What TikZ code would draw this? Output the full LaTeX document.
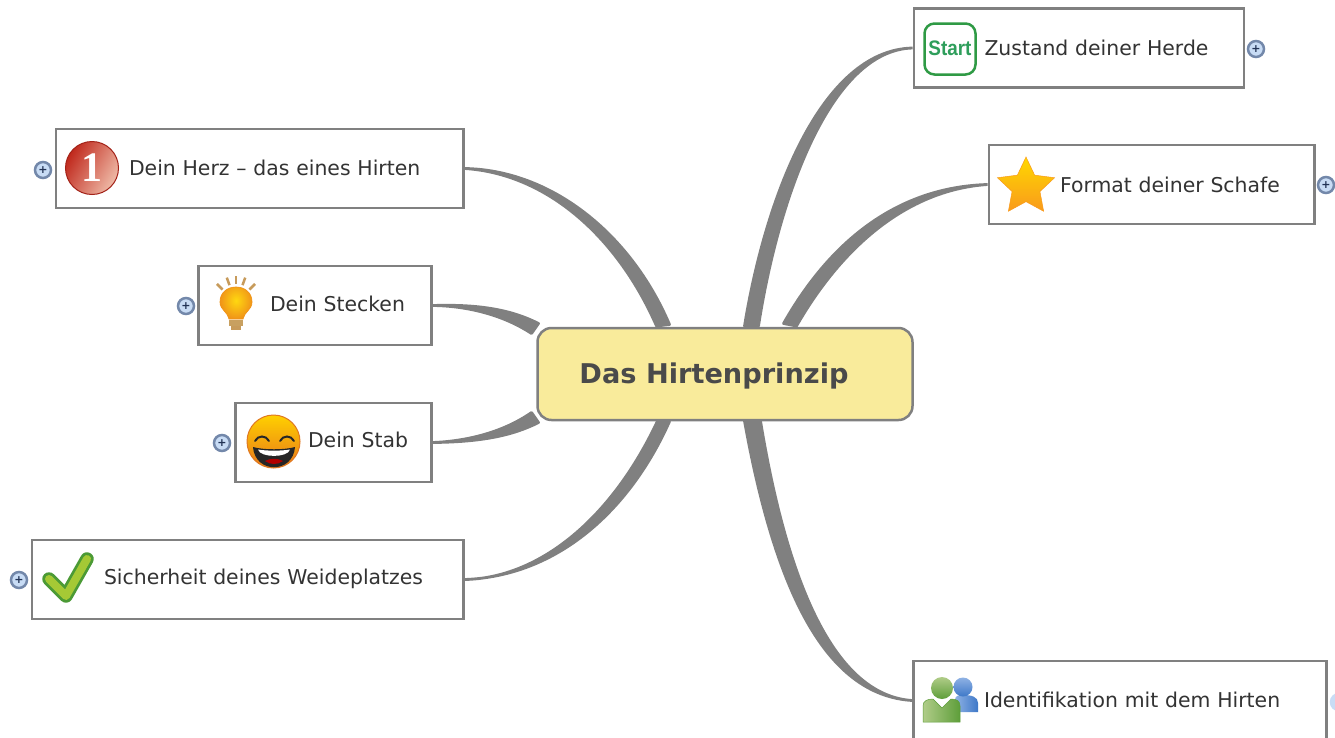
\documentclass[tikz,border=0pt]{standalone}
\usepackage{fontspec}
\setmainfont{DejaVu Sans}
\newfontfamily\iconserif{Liberation Serif}
\newfontfamily\iconsans{Liberation Sans}
\usetikzlibrary{shapes.geometric}
\definecolor{linegray}{HTML}{808080}
\definecolor{textgray}{HTML}{333333}
\definecolor{maingray}{HTML}{4A4A4A}
\definecolor{mainfill}{HTML}{F9EB9B}
\definecolor{plusring}{HTML}{7388AA}
\definecolor{plusfill}{HTML}{C8DCF5}
\definecolor{plusdark}{HTML}{223355}
\definecolor{startgreen}{HTML}{2F9A45}
\definecolor{startword}{HTML}{2E9E5B}
\definecolor{stargold}{HTML}{FFD800}
\definecolor{starorange}{HTML}{F99A1C}
\definecolor{numberdark}{HTML}{C0281C}
\definecolor{numberlight}{HTML}{EFBBA8}
\definecolor{bulbyellow}{HTML}{FFD810}
\definecolor{bulborange}{HTML}{F09418}
\definecolor{bulbbase}{HTML}{C8A060}
\definecolor{facetop}{HTML}{FFD000}
\definecolor{facebottom}{HTML}{E8781A}
\definecolor{checkdark}{HTML}{4B9A35}
\definecolor{checklight}{HTML}{A5C935}
\definecolor{bodylight}{HTML}{B0CC88}
\definecolor{bodydark}{HTML}{5E9E3A}
\definecolor{personblue}{HTML}{3E78C8}
\definecolor{blueshine}{HTML}{8FB2E4}
\begin{document}
\begin{tikzpicture}[
    x=1pt, y=-1pt,
    topic/.style n args={2}{draw=linegray, line width=2.8pt, fill=white, minimum height=79pt, inner xsep=0pt, inner ysep=0pt, text=textgray, text width=#1, align=left, text height=17pt, text depth=3pt, font=\fontsize{20.4}{24}\selectfont, execute at begin node={\hspace*{#2}}},
    mainidea/.style={draw=linegray, line width=2.5pt, fill=mainfill, rounded corners=14pt, minimum width=375pt, minimum height=92pt, text=maingray, text height=23pt, text depth=5pt, font=\fontsize{27.2}{32}\selectfont\bfseries},
    expander/.style={circle, draw=plusring, line width=2.5pt, fill=plusfill, minimum size=16pt, inner sep=0pt, text=plusdark, font=\fontsize{11}{11}\selectfont\bfseries},
    branch/.style={draw=linegray, fill=linegray, line width=2.8pt, line join=round}
]
    \useasboundingbox (0,0) rectangle (1335,737);
    \clip (0,0) rectangle (1335,737);

    % Main idea
    \node[mainidea] (prinzip) at (725,374) {Das Hirtenprinzip\hspace*{22pt}};

    % Right side
    \node[topic={330pt}{70.5pt}] (herde) at (1079,48) {Zustand deiner Herde};
    \node[topic={325.5pt}{71pt}, text depth=1pt] (schafe) at (1151.75,184.5) {Format deiner Schafe};
    \node[topic={413pt}{70.5pt}] (hirte) at (1120,700.5) {Identifikation mit dem Hirten};

    % Left side
    \node[topic={407.5pt}{73pt}] (herz) at (259.75,168.5) {Dein Herz -- das eines Hirten};
    \node[topic={233pt}{71.5pt}, text depth=5pt] (stecken) at (315,305.5) {Dein Stecken};
    \node[topic={196pt}{72.5pt}, text depth=7pt] (stab) at (333.5,442.5) {Dein Stab};
    \node[topic={431.5pt}{72pt}, text depth=7pt] (weide) at (247.75,579.5) {Sicherheit deines Weideplatzes};

    % Expanders
    \node[expander] (herdeplus) at (1256,49) {+};
    \node[expander] (schafeplus) at (1326,185) {+};
    \node[expander, draw=plusfill] (hirteplus) at (1339,702) {};
    \node[expander] (herzplus) at (43,170) {+};
    \node[expander] (steckenplus) at (186,306) {+};
    \node[expander] (stabplus) at (222,443) {+};
    \node[expander] (weideplus) at (19,580) {+};

    % Ends at the main idea
    \coordinate (herzA) at (669.5,324.5);
    \coordinate (herzB) at (656.5,326);
    \coordinate (steckenA) at (538.5,323.5);
    \coordinate (steckenB) at (531.5,333.5);
    \coordinate (stabA) at (531.5,412.5);
    \coordinate (stabB) at (538.5,422.5);
    \coordinate (weideA) at (657.5,421);
    \coordinate (weideB) at (669.5,421.5);
    \coordinate (herdeA) at (744.5,326);
    \coordinate (herdeB) at (758.5,326);
    \coordinate (schafeA) at (783.5,323.5);
    \coordinate (schafeB) at (796.5,326);
    \coordinate (hirteA) at (744.5,421);
    \coordinate (hirteB) at (760.5,421);

    % Branches
    \path[branch] (herz.east) .. controls (550,170) and (630,232) .. (herzA) -- (herzB) .. controls (618,238) and (548,174) .. (herz.east);
    \path[branch] (stecken.east) .. controls (480,304) and (512,310) .. (steckenA) -- (steckenB) .. controls (505,316) and (470,306) .. (stecken.east);
    \path[branch] (stab.east) .. controls (470,441) and (505,431) .. (stabA) -- (stabB) .. controls (512,436) and (480,442) .. (stab.east);
    \path[branch] (weide.east) .. controls (540,578) and (612,518) .. (weideA) -- (weideB) .. controls (630,510) and (558,576) .. (weide.east);
    \path[branch] (herde.west) .. controls (820,50) and (765,200) .. (herdeA) -- (herdeB) .. controls (778,200) and (830,50) .. (herde.west);
    \path[branch] (schafe.west) .. controls (900,187) and (832,238) .. (schafeA) -- (schafeB) .. controls (840,250) and (905,190) .. (schafe.west);
    \path[branch] (hirte.west) .. controls (825,695) and (775,590) .. (hirteA) -- (hirteB) .. controls (785,570) and (830,695) .. (hirte.west);

    % Start icon
    \node[draw=startgreen, line width=2.5pt, rounded corners=10pt, fill=white, minimum size=51pt, inner sep=0pt] (starticon) at (950,49) {};
    \node[text=startword, font=\iconsans\fontsize{21}{21}\selectfont\bfseries, inner sep=0pt, xscale=.9] (starttext) at (950,48) {Start};

    % Star icon
    \node[star, star points=5, star point ratio=2.05, top color=stargold, bottom color=starorange, draw=starorange, line width=.5pt, minimum size=60pt, inner sep=0pt] (staricon) at (1026,187) {};

    % Number icon
    \node[circle, draw=numberdark!85!black, line width=1pt, left color=numberdark, right color=numberlight, shading angle=60, minimum size=53pt, inner sep=0pt, text=white, font=\iconserif\fontsize{42}{42}\selectfont\bfseries] (numbericon) at (92,168) {1};

    % Bulb icon
    \foreach \a in {-45,-20,0,20,45}
        \draw[bulbbase!85!brown, line width=2.5pt] ([shift={(\a+90:19pt)}]236,303) -- ([shift={(\a+90:27pt)}]236,303);
    \path[inner color=bulbyellow, outer color=bulborange, draw=bulborange, line width=.7pt] (229,319) .. controls (228,312) and (220,310) .. (220,302) .. controls (220,282) and (252,282) .. (252,302) .. controls (252,310) and (244,312) .. (243,319) -- cycle;
    \fill[bulbbase] (229,320) rectangle (243,326);
    \fill[bulbbase!85!brown] (231,326) rectangle (241,329.5);

    % Smile icon
    \node[circle, draw=facebottom!80!brown, line width=1pt, top color=facetop, bottom color=facebottom, minimum size=53pt, inner sep=0pt] (smileicon) at (273.5,441.5) {};
    \draw[black!85, line width=2pt, line cap=round] (255,441) .. controls (258,435) and (266,435) .. (269,441);
    \draw[black!85, line width=2pt, line cap=round] (280,441) .. controls (283,435) and (291,435) .. (294,441);
    \fill[black!85] (253,447) .. controls (263,450) and (285,450) .. (295,447) .. controls (293,474) and (255,474) .. (253,447);
    \fill[white] (258,449.5) .. controls (266,451) and (282,451) .. (290,449.5) .. controls (288,458) and (260,458) .. (258,449.5);
    \fill[red!70!black] (265,461) .. controls (270,458) and (278,458) .. (283,461) .. controls (278,465) and (270,465) .. (265,461);

    % Check icon
    \draw[checkdark, line width=13.5pt, line cap=round, line join=round] (49,579) -- (66,596) -- (87,559);
    \draw[checklight, line width=8pt, line cap=round, line join=round] (49,579) -- (66,596) -- (87,559);

    % People icon
    \path[left color=blueshine, right color=personblue] (955,712) -- (955,700) .. controls (955,696) and (958,695) .. (963,695) .. controls (972,695) and (978,697) .. (978,703) -- (978,712) -- cycle;
    \shade[top color=blueshine, bottom color=personblue] (963,687) circle (9.5pt);
    \path[left color=bodylight, right color=bodydark, draw=bodydark, line width=.5pt] (923,722) -- (923,706) .. controls (923,701) and (927,699) .. (933,699) -- (942,708) -- (951,699) .. controls (957,699) and (960,701) .. (960,706) -- (960,722) -- cycle;
    \shade[top color=bodylight, bottom color=bodydark] (942,688) circle (11pt);

\end{tikzpicture}
\end{document}
